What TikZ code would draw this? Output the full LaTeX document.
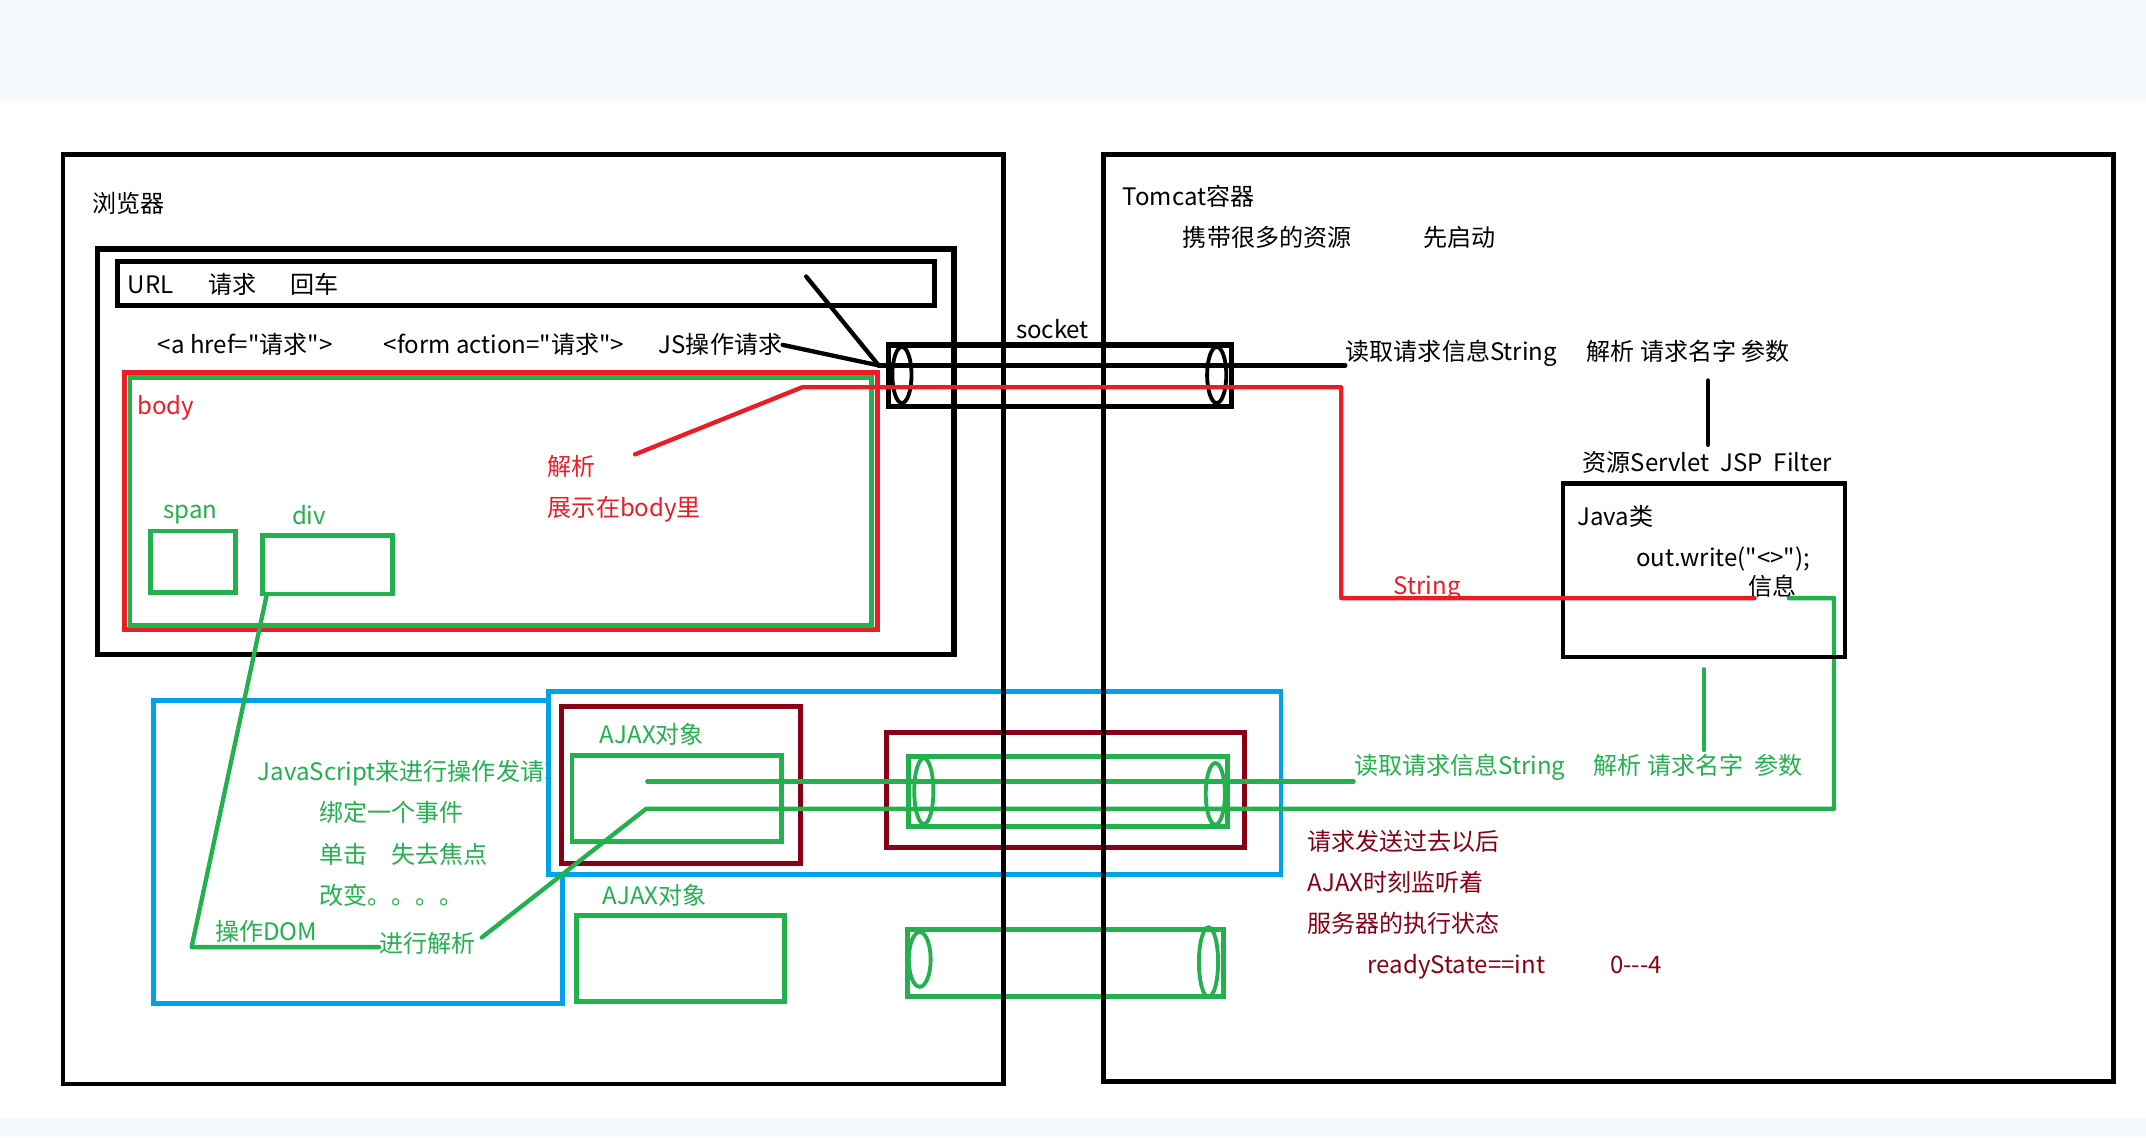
\documentclass[tikz,border=0pt]{standalone}
\usepackage{fontspec}
\newfontfamily\cjkfont{Noto Sans CJK SC}
\usepackage{tikz}
\usetikzlibrary{positioning,fit,shapes.geometric}
\definecolor{PaintRed}{RGB}{237,28,36}
\definecolor{PaintGreen}{RGB}{34,177,76}
\definecolor{PaintBlue}{RGB}{0,162,232}
\definecolor{PaintMaroon}{RGB}{136,0,21}
\definecolor{BandGray}{RGB}{246,249,253}

\begin{document}
\begin{tikzpicture}[
x=0.02cm,y=-0.02cm,
boxline/.style={draw,line width=2pt,inner sep=0pt},
txt/.style={inner sep=0pt,anchor=west,text height=0.85em,text depth=0.15em,font=\cjkfont\fontsize{10}{12}\selectfont},
pipeend/.style={ellipse,draw,inner sep=0pt,minimum width=0.28cm,line width=1.6pt},
wire/.style={line width=1.8pt,line cap=round,line join=round}
]
\fill[BandGray] (0,0) rectangle (1568,75);
\fill[BandGray] (0,817) rectangle (1568,831);
\useasboundingbox (0,0) rectangle (1568,831);

\node[boxline,draw=PaintBlue,fit={(112,512) (411,733)}] (jsbox) {};
\node[txt,PaintGreen] (jstxt) at (188,564) {JavaScript来进行操作发请求};
\node[txt,PaintGreen] (bindevt) at (233,594) {绑定一个事件};
\node[txt,PaintGreen] (click) at (233,625) {单击\quad 失去焦点};
\node[txt,PaintGreen] (change) at (233,655) {改变。。。。};
\node[txt,PaintGreen] (domop) at (157,681) {操作DOM};
\node[txt,PaintGreen] (doparse) at (277,690) {进行解析};
\node[boxline,draw=PaintBlue,fill=white,fit={(401,505) (936,639)}] (ajaxzone) {};
\node[boxline,draw=PaintMaroon,fit={(410,516) (585,631)}] (ajaxwrap) {};
\node[boxline,draw=PaintMaroon,fit={(648,535) (909,619)}] (pipewrap) {};
\node[txt,PaintGreen] (ajaxAtxt) at (438,537) {AJAX对象};
\node[boxline,draw=PaintGreen,fit={(418,552) (571,615)}] (ajaxA) {};
\node[txt,PaintGreen] (ajaxBtxt) at (440,655) {AJAX对象};
\node[boxline,draw=PaintGreen,fit={(421,669) (573,732)}] (ajaxB) {};
\node[boxline,draw=PaintGreen,fit={(664,553) (897,604)}] (pipeA) {};
\node[pipeend,draw=PaintGreen,minimum height=0.96cm] (pipeAl) at (675,578) {};
\node[pipeend,draw=PaintGreen,minimum height=0.9cm] (pipeAr) at (888,580) {};
\node[boxline,draw=PaintGreen,fit={(663,679) (894,728)}] (pipeB) {};
\node[pipeend,draw=PaintGreen,minimum width=0.32cm,minimum height=0.8cm] (pipeBl) at (672,701) {};
\node[pipeend,draw=PaintGreen,minimum height=1.02cm] (pipeBr) at (883,703) {};
\node[txt,PaintGreen] (readgreen) at (989,560) {读取请求信息String};
\node[txt,PaintGreen] (parsegreen) at (1164,560) {解析 请求名字\ \ 参数};
\node[txt,PaintMaroon] (afterreq) at (955,615) {请求发送过去以后};
\node[txt,PaintMaroon] (listen) at (955,645) {AJAX时刻监听着};
\node[txt,PaintMaroon] (srvstate) at (955,675) {服务器的执行状态};
\node[txt,PaintMaroon] (readystate) at (999,705) {readyState==int};
\node[txt,PaintMaroon] (staterange) at (1176,705) {0-{}-{}-4};

\coordinate (upstart) at (473,571);
\coordinate (parsetip) at (352,685);
\coordinate (lowbend) at (472,591);
\coordinate (rightbend) at (1340,591);
\coordinate (infobend) at (1340,437);
\coordinate (infotail) at (1307,437);
\draw[wire,PaintGreen] (upstart) -- (upstart -| readgreen.west);
\draw[wire,PaintGreen] (parsetip) -- (lowbend) -- (rightbend) -- (infobend) -- (infotail);
\draw[wire,PaintGreen] (1245,489) -- (1245,548);

\node[boxline,fit={(46,113) (733,792)}] (browser) {};
\node[boxline,fit={(806,113) (1544,790)}] (tomcat) {};
\node[boxline,line width=2.2pt,fit={(71,182) (697,478)}] (window) {};
\node[boxline,fit={(86,191) (683,223)}] (urlbar) {};
\node[boxline,fit={(1142,353) (1348,480)}] (javabox) {};
\node[boxline,line width=2.2pt,fit={(649,252) (900,297)}] (socket) {};
\node[pipeend,minimum height=0.82cm] (sockl) at (659,274) {};
\node[pipeend,minimum height=0.82cm] (sockr) at (889,274) {};

\node[txt] (browsertxt) at (67,149) {浏览器};
\node[txt] (tomcattxt) at (820,144) {Tomcat容器};
\node[txt] (carry) at (864,174) {携带很多的资源};
\node[txt] (startfirst) at (1040,174) {先启动};
\node[txt] (url) at (93,208) {URL};
\node[txt] (urlreq) at (152,208) {请求};
\node[txt] (urlenter) at (212,208) {回车};
\node[txt] (ahref) at (115,252) {<a href="请求">};
\node[txt] (formact) at (280,252) {<form action="请求">};
\node[txt] (jsreq) at (481,252) {JS操作请求};
\node[txt] (sockettxt) at (742,241) {socket};
\node[txt] (readreq) at (983,257) {读取请求信息String};
\node[txt] (parsereq) at (1159,257) {解析 请求名字 参数};
\node[txt] (resources) at (1156,338) {资源Servlet\ \ JSP\ \ Filter};
\node[txt] (javacls) at (1152,378) {Java类};
\node[txt] (outwrite) at (1195,408) {out.write("<>");};
\node[txt] (info) at (1277,429) {信息};

\coordinate (urltail) at (589,202);
\coordinate (sockin) at (642,267);
\draw[wire] (urltail) -- (sockin);
\draw[wire] (jsreq.east) -- (sockin);
\draw[wire] (sockin) -- (sockin -| readreq.west);
\draw[wire] (1248,278) -- (1248,325);

\node[boxline,draw=PaintRed,fit={(91,272) (641,460)}] (body) {};
\node[boxline,draw=PaintGreen,fit={(95,276) (637,457)}] (bodyview) {};
\node[txt,PaintRed] (bodytxt) at (100,297) {body};
\node[txt,PaintRed] (parsered) at (400,341) {解析};
\node[txt,PaintRed] (showbody) at (400,371) {展示在body里};
\node[txt,PaintGreen] (spantxt) at (119,373) {span};
\node[txt,PaintGreen] (divtxt) at (213,377) {div};
\node[boxline,draw=PaintGreen,fit={(110,388) (172,433)}] (span) {};
\node[boxline,draw=PaintGreen,fit={(192,391) (287,434)}] (div) {};
\node[txt,PaintRed] (strred) at (1018,428) {String};

\coordinate (divfoot) at (195,434);
\coordinate (domcorner) at (140,692);
\draw[wire,PaintGreen] (divfoot) -- (domcorner) -- (domcorner -| doparse.west);
\coordinate (redA) at (464,332);
\coordinate (redB) at (586,283);
\coordinate (redC) at (980,283);
\coordinate (redD) at (980,437);
\coordinate (redE) at (1282,437);
\draw[wire,PaintRed] (redA) -- (redB) -- (redC) -- (redD) -- (redE);
\end{tikzpicture}
\end{document}
